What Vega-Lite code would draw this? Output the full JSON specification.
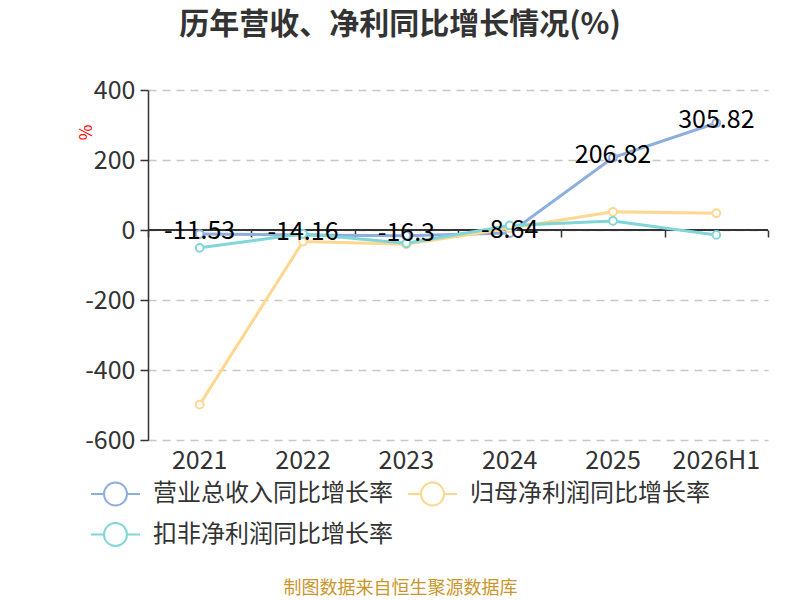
{
  "$schema": "https://vega.github.io/schema/vega-lite/v6.json",
  "autosize": "none",
  "width": 620,
  "height": 350,
  "padding": {"left": 148, "top": 90, "right": 32, "bottom": 160},
  "background": "white",
  "config": {"view": {"stroke": null}, "font": "Noto Sans CJK SC"},
  "title": {"text": "历年营收、净利同比增长情况(%)", "fontSize": 30, "fontWeight": "bold", "color": "#333333", "anchor": "middle", "dx": -58, "offset": 38, "font": "Noto Sans CJK SC"},
  "data": {"values": [
    {"year": "2021", "series": "营业总收入同比增长率", "value": -11.53},
    {"year": "2022", "series": "营业总收入同比增长率", "value": -14.16},
    {"year": "2023", "series": "营业总收入同比增长率", "value": -16.3},
    {"year": "2024", "series": "营业总收入同比增长率", "value": -8.64},
    {"year": "2025", "series": "营业总收入同比增长率", "value": 206.82},
    {"year": "2026H1", "series": "营业总收入同比增长率", "value": 305.82},
    {"year": "2021", "series": "归母净利润同比增长率", "value": -499},
    {"year": "2022", "series": "归母净利润同比增长率", "value": -33},
    {"year": "2023", "series": "归母净利润同比增长率", "value": -41},
    {"year": "2024", "series": "归母净利润同比增长率", "value": 5},
    {"year": "2025", "series": "归母净利润同比增长率", "value": 52},
    {"year": "2026H1", "series": "归母净利润同比增长率", "value": 48},
    {"year": "2021", "series": "扣非净利润同比增长率", "value": -51},
    {"year": "2022", "series": "扣非净利润同比增长率", "value": -11},
    {"year": "2023", "series": "扣非净利润同比增长率", "value": -38},
    {"year": "2024", "series": "扣非净利润同比增长率", "value": 13},
    {"year": "2025", "series": "扣非净利润同比增长率", "value": 26},
    {"year": "2026H1", "series": "扣非净利润同比增长率", "value": -14}
  ]},
  "resolve": {"axis": {"x": "independent", "y": "independent"}},
  "layer": [
    {
      "mark": {"type": "point", "opacity": 0},
      "encoding": {
        "x": {"field": "year", "type": "nominal", "sort": null,
          "scale": {"type": "band", "paddingInner": 0, "paddingOuter": 0},
          "axis": {"orient": "bottom", "domain": false, "ticks": false, "grid": false, "labelAngle": 0,
            "labelFontSize": 25, "labelColor": "#333333", "labelPadding": 8, "labelFont": "Noto Sans CJK SC",
            "title": "制图数据来自恒生聚源数据库", "titleFontSize": 18, "titleFontWeight": "normal", "titleColor": "#c8962a",
            "titleX": 252, "titleY": 148, "titleBaseline": "middle", "titleFont": "Noto Sans CJK SC"}},
        "y": {"field": "value", "type": "quantitative",
          "scale": {"domain": [-600, 400], "nice": false, "zero": false},
          "axis": {"values": [-600, -400, -200, 0, 200, 400], "labelExpr": "'' + datum.value", "domain": true, "domainColor": "#333333", "domainWidth": 1.5,
            "ticks": true, "tickColor": "#333333", "tickSize": 8, "tickWidth": 1.5,
            "grid": true, "gridDash": [8, 6], "gridColor": "#c8c8c8", "gridWidth": 1.5,
            "labelFontSize": 25, "labelColor": "#333333", "labelPadding": 5, "labelFont": "Noto Sans CJK SC",
            "title": "%", "titleColor": "#ff0000", "titleFontSize": 17, "titleFontWeight": "normal", "titleAngle": -90,
            "titleX": -62, "titleY": 42, "titleBaseline": "middle", "titleFont": "Noto Sans CJK SC"}}
      }
    },
    {
      "mark": {"type": "rule", "color": "#333333", "strokeWidth": 2},
      "encoding": {"y": {"datum": 0, "type": "quantitative", "axis": null}}
    },
    {
      "mark": {"type": "point", "opacity": 0},
      "encoding": {
        "x": {"field": "year", "type": "nominal", "sort": null,
          "axis": {"orient": "bottom", "offset": -210, "labels": false, "domain": false, "grid": false,
            "ticks": true, "tickBand": "extent", "tickColor": "#333333", "tickSize": 7, "tickWidth": 1.5, "title": null}},
        "y": {"field": "value", "type": "quantitative", "axis": null}
      }
    },
    {
      "mark": {"type": "line", "strokeWidth": 3},
      "encoding": {
        "x": {"field": "year", "type": "nominal", "sort": null, "axis": null},
        "y": {"field": "value", "type": "quantitative", "axis": null},
        "color": {"field": "series", "type": "nominal",
          "scale": {"domain": ["营业总收入同比增长率", "归母净利润同比增长率", "扣非净利润同比增长率"], "range": ["#8eaedd", "#ffd78f", "#80d6d8"]},
          "legend": {"orient": "none", "direction": "horizontal", "legendX": -46, "legendY": 390, "columns": 2, "columnPadding": 11, "rowPadding": 8,
            "title": null, "padding": 0, "labelFontSize": 24, "labelColor": "#333333", "labelOffset": 24, "labelLimit": 400,
            "labelFont": "Noto Sans CJK SC",
            "symbolType": "M-2,0L-0.94,0M0.94,0L2,0M0.94,0A0.94,0.94,0,1,1,-0.94,0A0.94,0.94,0,1,1,0.94,0",
            "symbolSize": 600, "symbolStrokeWidth": 2, "symbolFillColor": "white", "symbolOpacity": 1}}
      }
    },
    {
      "mark": {"type": "point", "filled": true, "fill": "white", "size": 60, "strokeWidth": 2, "opacity": 1},
      "encoding": {
        "x": {"field": "year", "type": "nominal", "sort": null, "axis": null},
        "y": {"field": "value", "type": "quantitative", "axis": null},
        "stroke": {"field": "series", "type": "nominal", "legend": null,
          "scale": {"domain": ["营业总收入同比增长率", "归母净利润同比增长率", "扣非净利润同比增长率"], "range": ["#8eaedd", "#ffd78f", "#80d6d8"]}}
      }
    },
    {
      "transform": [{"filter": "datum.series === '营业总收入同比增长率'"}],
      "mark": {"type": "text", "fontSize": 25, "color": "#000000", "baseline": "middle", "dy": -3, "font": "Noto Sans CJK SC"},
      "encoding": {
        "x": {"field": "year", "type": "nominal", "sort": null, "axis": null},
        "y": {"field": "value", "type": "quantitative", "axis": null},
        "text": {"field": "value", "type": "nominal"}
      }
    }
  ]
}
